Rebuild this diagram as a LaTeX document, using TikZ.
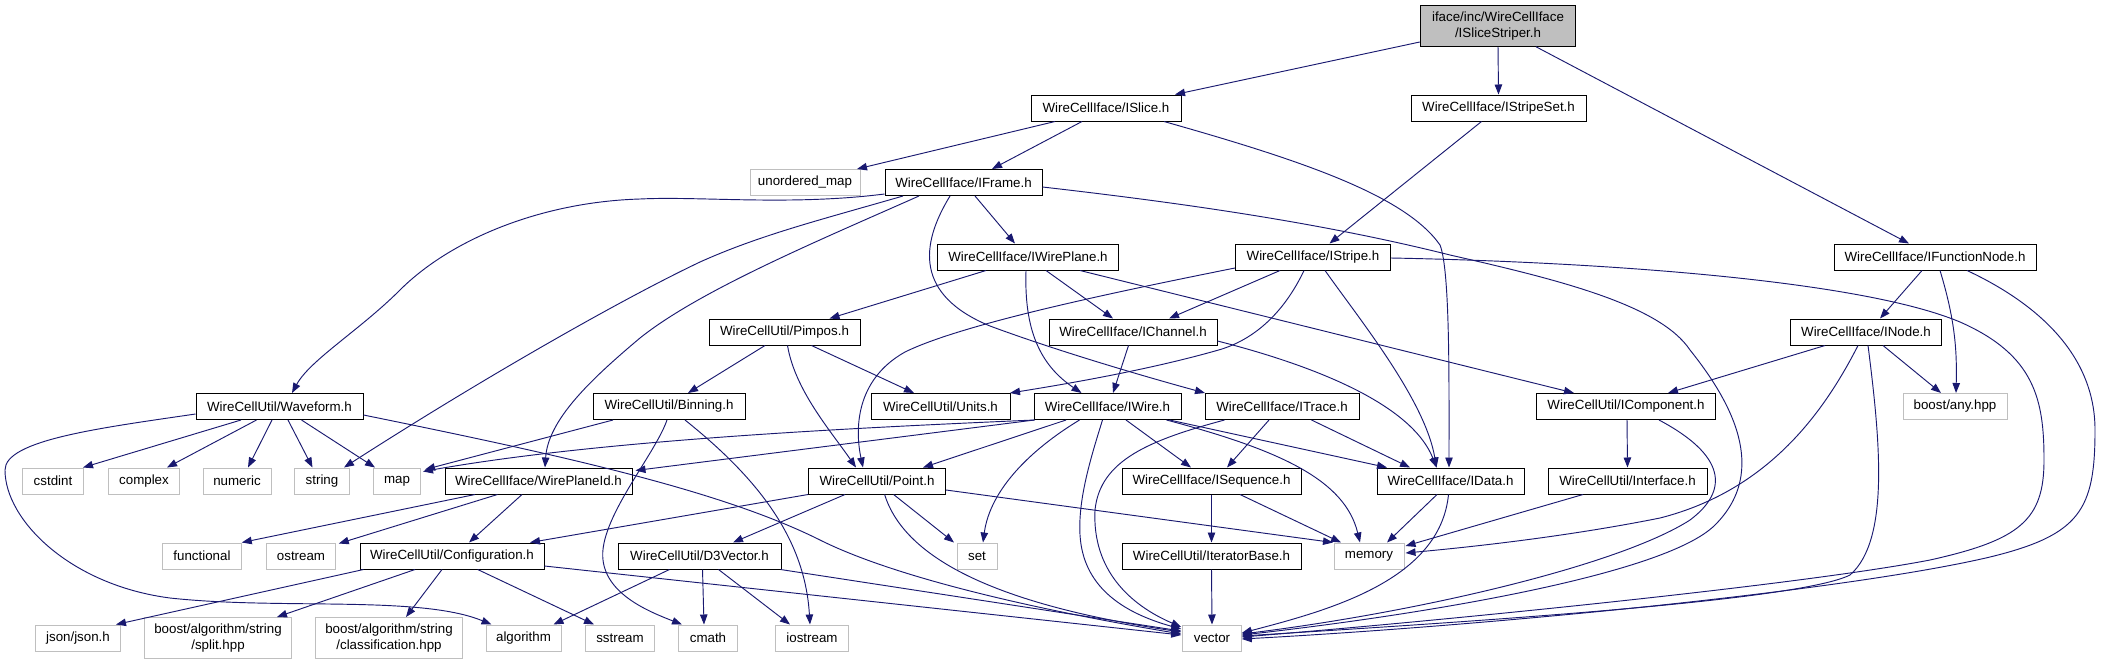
\documentclass[tikz,border=0pt]{standalone}
\usepackage{fontspec}
\newfontfamily\dox{Liberation Sans}
\usetikzlibrary{arrows.meta}
\definecolor{edgecol}{HTML}{191970}
\definecolor{greybox}{HTML}{BFBFBF}
\begin{document}
\begin{tikzpicture}[x=0.75pt,y=-0.75pt,
  box/.style={draw=black, line width=0.75pt, fill=white, inner sep=0pt,
    minimum height=19.5pt, font=\dox\fontsize{10}{11.75}\selectfont, align=center},
  ext/.style={box, draw=greybox},
  rootbox/.style={box, fill=greybox, minimum height=30.4pt},
  tall/.style={minimum height=30.75pt},
  w/.style={minimum width=#1pt},
  edge/.style={draw=edgecol, line width=0.7pt, -{Triangle[length=7.5pt,width=5.6pt]}}
]
\fill[white] (0,0) rectangle (2101,664);
\useasboundingbox (0,0) rectangle (2101,664);

% row 0
\node[rootbox,w=116.6] (root) at (1498,26) {iface/inc/WireCellIface\\/ISliceStriper.h};
% row 1
\node[box,w=112.5] (islice) at (1106,108) {WireCellIface/ISlice.h};
\node[box,w=131.25] (stripeset) at (1498.5,108) {WireCellIface/IStripeSet.h};
% row 2
\node[ext,w=82.5] (umap) at (805,182.5) {unordered\_map};
\node[box,w=117.75] (iframe) at (963.5,182.5) {WireCellIface/IFrame.h};
% row 3
\node[box,w=135.4] (iwplane) at (1028,257) {WireCellIface/IWirePlane.h};
\node[box,w=116.25] (istripe) at (1313,257) {WireCellIface/IStripe.h};
\node[box,w=151.5] (fnode) at (1935,257) {WireCellIface/IFunctionNode.h};
% row 4
\node[box,w=113.25] (pimpos) at (784.5,332) {WireCellUtil/Pimpos.h};
\node[box,w=126] (ichannel) at (1133,332) {WireCellIface/IChannel.h};
\node[box,w=112.9] (inode) at (1866,332) {WireCellIface/INode.h};
% row 5
\node[box,w=125.25] (waveform) at (279.5,406.5) {WireCellUtil/Waveform.h};
\node[box,w=114] (binning) at (669,406.5) {WireCellUtil/Binning.h};
\node[box,w=104.25] (units) at (940.5,406.5) {WireCellUtil/Units.h};
\node[box,w=110.25] (iwire) at (1107.5,406.5) {WireCellIface/IWire.h};
\node[box,w=115.5] (itrace) at (1282,406.5) {WireCellIface/ITrace.h};
\node[box,w=134.25] (icomp) at (1626,406.5) {WireCellUtil/IComponent.h};
\node[ext,w=78] (any) at (1955,406.5) {boost/any.hpp};
% row 6
\node[ext,w=46.1] (cstdint) at (53,481) {cstdint};
\node[ext,w=52.9] (complex) at (144,481) {complex};
\node[ext,w=51] (numeric) at (237,481) {numeric};
\node[ext,w=40.9] (string) at (322,481) {string};
\node[ext,w=35.25] (map) at (397,481) {map};
\node[box,w=140.25] (wpid) at (538.5,481) {WireCellIface/WirePlaneId.h};
\node[box,w=102.75] (point) at (877,481) {WireCellUtil/Point.h};
\node[box,w=134.25] (iseq) at (1211.5,481) {WireCellIface/ISequence.h};
\node[box,w=110.25] (idata) at (1450.5,481) {WireCellIface/IData.h};
\node[box,w=119.25] (intf) at (1627.5,481) {WireCellUtil/Interface.h};
% row 7
\node[ext,w=58.9] (functional) at (202,556) {functional};
\node[ext,w=51.4] (ostream) at (301,556) {ostream};
\node[box,w=138] (config) at (452,556) {WireCellUtil/Configuration.h};
\node[box,w=122.25] (d3v) at (699.5,556) {WireCellUtil/D3Vector.h};
\node[ext,w=30] (set) at (977,556) {set};
\node[box,w=134.25] (itbase) at (1211.5,556) {WireCellUtil/IteratorBase.h};
\node[ext,w=52.5] (memory) at (1369,556) {memory};
% row 8
\node[ext,w=63.75] (json) at (78,638) {json/json.h};
\node[ext,tall,w=109.9] (split) at (218,638) {boost/algorithm/string\\/split.hpp};
\node[ext,tall,w=109.9] (classif) at (389,638) {boost/algorithm/string\\/classification.hpp};
\node[ext,w=56.25] (algorithm) at (523.5,638) {algorithm};
\node[ext,w=52.1] (sstream) at (620,638) {sstream};
\node[ext,w=44.25] (cmath) at (708,638) {cmath};
\node[ext,w=54.4] (iostream) at (812,638) {iostream};
\node[ext,w=43.9] (vector) at (1212,638) {vector};

% edges
\draw[edge] ([shift={(0,16)}]root.west) -- ([shift={(69,0)}]islice.north);
\draw[edge] (root.south) -- (stripeset.north);
\draw[edge] ([shift={(38,0)}]root.south) -- ([shift={(-26,0)}]fnode.north);
\draw[edge] ([shift={(-51,0)}]islice.south) -- ([shift={(52,0)}]umap.north);
\draw[edge] ([shift={(-24,0)}]islice.south) -- ([shift={(28.5,0)}]iframe.north);
\draw[edge] ([shift={(58,0)}]islice.south) .. controls (1300,160) and (1405,195) .. (1440,245) .. controls (1450,270) and (1449,380) .. ([shift={(-1.5,0)}]idata.north);
\draw[edge] ([shift={(-17,0)}]stripeset.south) -- ([shift={(16.5,0)}]istripe.north);

\draw[edge] ([shift={(0,11.5)}]iframe.west) .. controls (790,206) and (700,196) .. (640,199) .. controls (540,202) and (450,240) .. (400,290) .. controls (360,330) and (310,360) .. ([shift={(12.5,0)}]waveform.north);
\draw[edge] ([shift={(-60.5,0)}]iframe.south) .. controls (820,220) and (760,235) .. (700,262) .. controls (620,300) and (480,380) .. ([shift={(22,0)}]string.north);
\draw[edge] ([shift={(-44.5,0)}]iframe.south) .. controls (820,240) and (700,290) .. (640,338) .. controls (590,380) and (548,420) .. ([shift={(6.5,0)}]wpid.north);
\draw[edge] ([shift={(11.5,0)}]iframe.south) -- ([shift={(-13,0)}]iwplane.north);
\draw[edge] ([shift={(-13.5,0)}]iframe.south) .. controls (920,245) and (915,295) .. (990,326) .. controls (1060,352) and (1150,378) .. ([shift={(-77,0)}]itrace.north);
\draw[edge] ([shift={(0,4.5)}]iframe.east) .. controls (1200,205) and (1330,225) .. (1450,255) .. controls (1560,280) and (1660,305) .. (1690,350) .. controls (1730,400) and (1770,470) .. (1715,525) .. controls (1665,575) and (1420,615) .. ([shift={(0,-3)}]vector.east);

\draw[edge] ([shift={(-42,0)}]iwplane.south) -- ([shift={(45,0)}]pimpos.north);
\draw[edge] ([shift={(-2,0)}]iwplane.south) .. controls (1024,330) and (1040,365) .. ([shift={(-26,0)}]iwire.north);
\draw[edge] ([shift={(18,0)}]iwplane.south) -- ([shift={(-20,0)}]ichannel.north);
\draw[edge] ([shift={(52,0)}]iwplane.south) -- ([shift={(-52,0)}]icomp.north);

\draw[edge] ([shift={(-33,0)}]istripe.south) -- ([shift={(36,0)}]ichannel.north);
\draw[edge] ([shift={(-9,0)}]istripe.south) .. controls (1290,300) and (1265,335) .. (1222,349) .. controls (1150,370) and (1060,385) .. ([shift={(69.5,0)}]units.north);
\draw[edge] ([shift={(0,11)}]istripe.west) .. controls (1100,295) and (960,325) .. (905,352) .. controls (855,380) and (855,430) .. ([shift={(-14,0)}]point.north);
\draw[edge] ([shift={(12,0)}]istripe.south) .. controls (1360,320) and (1425,400) .. ([shift={(-14,0)}]idata.north);
\draw[edge] ([shift={(0,1)}]istripe.east) .. controls (1600,262) and (1860,280) .. (1960,322) .. controls (2035,355) and (2044,400) .. (2044,460) .. controls (2044,520) and (2020,540) .. (1930,560) .. controls (1800,585) and (1450,620) .. ([shift={(0,-1)}]vector.east);

\draw[edge] ([shift={(-13,0)}]fnode.south) -- ([shift={(14,0)}]inode.north);
\draw[edge] ([shift={(5,0)}]fnode.south) .. controls (1955,320) and (1957,350) .. ([shift={(1,0)}]any.north);
\draw[edge] ([shift={(32,0)}]fnode.south) .. controls (2030,300) and (2095,350) .. (2095,430) .. controls (2095,510) and (2080,535) .. (1990,557) .. controls (1850,590) and (1500,625) .. ([shift={(0,1)}]vector.east);

\draw[edge] ([shift={(-19.5,0)}]pimpos.south) -- ([shift={(19,0)}]binning.north);
\draw[edge] ([shift={(27,0)}]pimpos.south) -- ([shift={(-26.5,0)}]units.north);
\draw[edge] ([shift={(3,0)}]pimpos.south) .. controls (795,390) and (830,430) .. ([shift={(-21,0)}]point.north);
\draw[edge] ([shift={(-4.5,0)}]ichannel.south) -- ([shift={(5.5,0)}]iwire.north);
\draw[edge] ([shift={(0,9)}]ichannel.east) .. controls (1300,362) and (1410,400) .. ([shift={(-14,0)}]idata.north);

\draw[edge] ([shift={(-41,0)}]inode.south) -- ([shift={(42,0)}]icomp.north);
\draw[edge] ([shift={(17,0)}]inode.south) -- ([shift={(-14,0)}]any.north);
\draw[edge] ([shift={(-8,0)}]inode.south) .. controls (1825,410) and (1770,490) .. (1660,518) .. controls (1560,538) and (1460,548) .. ([shift={(1,-3)}]memory.east);
\draw[edge] ([shift={(2,0)}]inode.south) .. controls (1880,440) and (1890,540) .. (1850,575) .. controls (1800,600) and (1500,620) .. ([shift={(0,-2)}]vector.east);

\draw[edge] ([shift={(-38.5,0)}]waveform.south) -- ([shift={(30,0)}]cstdint.north);
\draw[edge] ([shift={(-23,0)}]waveform.south) -- ([shift={(23,0)}]complex.north);
\draw[edge] ([shift={(-7.5,0)}]waveform.south) -- ([shift={(11,0)}]numeric.north);
\draw[edge] ([shift={(8.5,0)}]waveform.south) -- ([shift={(-9.5,0)}]string.north);
\draw[edge] ([shift={(22,0)}]waveform.south) -- ([shift={(-22,0)}]map.north);
\draw[edge] ([shift={(0,7.5)}]waveform.west) .. controls (100,428) and (5,440) .. (5,470) .. controls (5,520) and (70,585) .. (170,598) .. controls (280,610) and (420,595) .. ([shift={(-32,0)}]algorithm.north);
\draw[edge] ([shift={(0,8.5)}]waveform.east) .. controls (560,455) and (720,490) .. (820,540) .. controls (900,580) and (1050,612) .. ([shift={(-1,-4)}]vector.west);

\draw[edge] ([shift={(-56,0)}]binning.south) -- ([shift={(4,2)}]map.north east);
\draw[edge] ([shift={(-2,0)}]binning.south) .. controls (655,455) and (598,520) .. (603,560) .. controls (607,595) and (650,612) .. ([shift={(-26,0)}]cmath.north);
\draw[edge] ([shift={(16,0)}]binning.south) .. controls (760,480) and (805,540) .. ([shift={(-2,0)}]iostream.north);

\draw[edge] ([shift={(1,0)}]iwire.south west) .. controls (850,428) and (600,440) .. ([shift={(2,4)}]map.north east);
\draw[edge] ([shift={(1,0)}]iwire.south west) -- ([shift={(3,3)}]wpid.north east);
\draw[edge] ([shift={(-41.5,0)}]iwire.south) -- ([shift={(46,0)}]point.north);
\draw[edge] ([shift={(-28,0)}]iwire.south) .. controls (1030,450) and (990,490) .. ([shift={(6,0)}]set.north);
\draw[edge] ([shift={(-5,0)}]iwire.south) .. controls (1090,460) and (1078,500) .. (1080,535) .. controls (1083,585) and (1120,612) .. ([shift={(-1,-9)}]vector.west);
\draw[edge] ([shift={(18.5,0)}]iwire.south) -- ([shift={(-20.5,0)}]iseq.north);
\draw[edge] ([shift={(59,0)}]iwire.south) .. controls (1280,450) and (1345,480) .. ([shift={(-9,0)}]memory.north);
\draw[edge] ([shift={(62,0)}]iwire.south) -- ([shift={(-63.5,0)}]idata.north);

\draw[edge] ([shift={(-13,0)}]itrace.south) -- ([shift={(15.5,0)}]iseq.north);
\draw[edge] ([shift={(29.5,0)}]itrace.south) -- ([shift={(-40.5,0)}]idata.north);
\draw[edge] ([shift={(-57.5,0)}]itrace.south) .. controls (1150,440) and (1100,460) .. (1095,510) .. controls (1092,570) and (1130,605) .. ([shift={(-1,-11)}]vector.west);

\draw[edge] ([shift={(1,0)}]icomp.south) -- (intf.north);
\draw[edge] ([shift={(33,0)}]icomp.south) .. controls (1725,455) and (1730,490) .. (1690,520) .. controls (1620,565) and (1420,612) .. ([shift={(0,-4)}]vector.east);

\draw[edge] ([shift={(-63.5,0)}]wpid.south) -- (functional.north east);
\draw[edge] ([shift={(-41,0)}]wpid.south) -- ([shift={(3,1)}]ostream.north east);
\draw[edge] ([shift={(-16.5,0)}]wpid.south) -- ([shift={(17,0)}]config.north);

\draw[edge] (point.south west) -- ([shift={(78,0)}]config.north);
\draw[edge] ([shift={(-32,0)}]point.south) -- ([shift={(33.5,0)}]d3v.north);
\draw[edge] ([shift={(16.6,0)}]point.south) -- ([shift={(-23,0)}]set.north);
\draw[edge] ([shift={(0,9)}]point.east) -- ([shift={(-36,0)}]memory.north);
\draw[edge] ([shift={(7.6,0)}]point.south) .. controls (905,560) and (1000,605) .. ([shift={(-1,-6)}]vector.west);

\draw[edge] (iseq.south) -- (itbase.north);
\draw[edge] ([shift={(28.5,0)}]iseq.south) -- ([shift={(-28,0)}]memory.north);
\draw[edge] ([shift={(-13.5,0)}]idata.south) -- ([shift={(18,0)}]memory.north);
\draw[edge] ([shift={(-2,0)}]idata.south) .. controls (1440,580) and (1330,610) .. ([shift={(0,-5)}]vector.east);
\draw[edge] ([shift={(-44.5,0)}]intf.south) -- ([shift={(1,-10)}]memory.east);

\draw[edge] ([shift={(4,0)}]config.south west) -- ([shift={(38,0)}]json.north);
\draw[edge] ([shift={(-37,0)}]config.south) -- ([shift={(59,0)}]split.north);
\draw[edge] ([shift={(-10,0)}]config.south) -- ([shift={(17,0)}]classif.north);
\draw[edge] ([shift={(25.7,0)}]config.south) -- ([shift={(-26,0)}]sstream.north);
\draw[edge] ([shift={(0,10)}]config.east) -- ([shift={(-1,-3)}]vector.west);

\draw[edge] ([shift={(-30,0)}]d3v.south) -- ([shift={(30,0)}]algorithm.north);
\draw[edge] ([shift={(3,0)}]d3v.south) -- ([shift={(-4,0)}]cmath.north);
\draw[edge] ([shift={(19,0)}]d3v.south) -- ([shift={(-22,0)}]iostream.north);
\draw[edge] ([shift={(-1,0)}]d3v.south east) -- ([shift={(-1,-7)}]vector.west);
\draw[edge] (itbase.south) -- (vector.north);
\end{tikzpicture}
\end{document}
